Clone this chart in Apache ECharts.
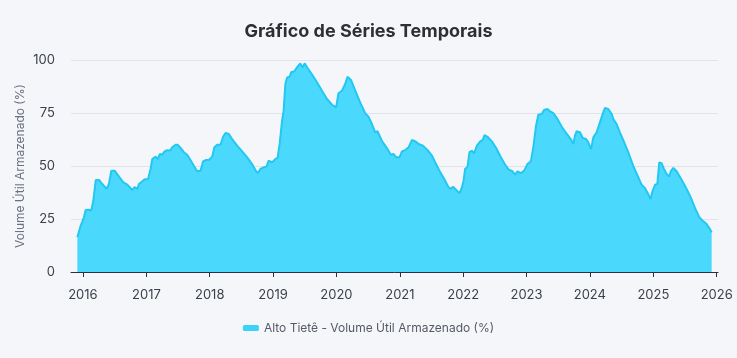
<!DOCTYPE html>
<html>
<head>
<meta charset="utf-8">
<script src="https://cdn.jsdelivr.net/npm/echarts@6/dist/echarts.min.js"></script>
<style>
html,body{margin:0;padding:0;background:#f5f6fa;}
#chart{width:737px;height:358px;}
</style>
</head>
<body>
<div id="chart"></div>
<script>
const titleText = "Gráfico de Séries Temporais";
const seriesName = "Alto Tietê - Volume Útil Armazenado (%)";
const yAxisName = "Volume Útil Armazenado (%)";

const dates = [
"2015-11-30","2015-12-19","2016-01-07","2016-01-17","2016-02-04","2016-02-18","2016-03-01","2016-03-15","2016-04-03","2016-04-22",
"2016-05-17","2016-05-30","2016-06-13","2016-07-02","2016-07-27","2016-08-21","2016-09-13","2016-10-12","2016-10-25","2016-11-10",
"2016-11-19","2016-12-09","2016-12-22","2017-01-10","2017-01-25","2017-02-04","2017-02-23","2017-03-08","2017-03-20","2017-04-02",
"2017-04-16","2017-05-01","2017-05-16","2017-05-30","2017-06-18","2017-07-01","2017-07-17","2017-08-05","2017-08-24","2017-09-12",
"2017-10-01","2017-10-21","2017-11-09","2017-11-24","2017-12-08","2017-12-27","2018-01-15","2018-01-28","2018-02-13","2018-03-04",
"2018-03-19","2018-04-02","2018-04-21","2018-05-10","2018-06-08","2018-07-07","2018-08-05","2018-09-02","2018-09-21","2018-10-05",
"2018-10-20","2018-11-08","2018-11-24","2018-12-07","2018-12-26","2019-01-14","2019-01-27","2019-02-08","2019-02-22","2019-03-03",
"2019-03-13","2019-03-23","2019-04-07","2019-04-15","2019-05-04","2019-05-19","2019-06-07","2019-06-20","2019-07-02","2019-07-19",
"2019-08-14","2019-09-11","2019-10-10","2019-11-08","2019-12-07","2019-12-31","2020-01-13","2020-02-02","2020-02-11","2020-02-21",
"2020-03-05","2020-03-25","2020-04-19","2020-05-17","2020-06-15","2020-07-04","2020-07-24","2020-08-12","2020-08-25","2020-09-19",
"2020-10-18","2020-11-10","2020-11-25","2020-12-11","2020-12-30","2021-01-13","2021-02-01","2021-02-20","2021-03-12","2021-03-31",
"2021-04-19","2021-05-14","2021-06-10","2021-07-05","2021-07-24","2021-08-22","2021-09-14","2021-10-08","2021-10-22","2021-11-03",
"2021-11-22","2021-12-11","2021-12-25","2022-01-03","2022-01-12","2022-01-26","2022-02-06","2022-02-20","2022-03-05","2022-03-21",
"2022-04-09","2022-04-24","2022-05-04","2022-05-21","2022-06-15","2022-07-10","2022-08-06","2022-08-31","2022-09-23","2022-10-08",
"2022-10-27","2022-11-10","2022-11-29","2022-12-18","2023-01-06","2023-01-26","2023-02-09","2023-02-25","2023-03-10","2023-03-30",
"2023-04-12","2023-05-01","2023-05-17","2023-06-05","2023-06-28","2023-07-23","2023-08-21","2023-09-13","2023-09-28","2023-10-07",
"2023-10-17","2023-11-05","2023-11-21","2023-12-10","2023-12-23","2024-01-08","2024-01-21","2024-02-09","2024-02-28","2024-03-18",
"2024-03-28","2024-04-16","2024-05-06","2024-05-15","2024-06-03","2024-06-22","2024-07-11","2024-08-09","2024-09-07","2024-10-06",
"2024-10-25","2024-11-13","2024-12-02","2024-12-16","2024-12-28","2025-01-11","2025-01-24","2025-02-04","2025-02-18","2025-03-03",
"2025-03-19","2025-04-03","2025-04-11","2025-04-26","2025-05-15","2025-06-07","2025-07-02","2025-07-31","2025-08-29","2025-09-23",
"2025-10-16","2025-11-04","2025-11-23","2025-12-03"
];

const volumes = [
16.4,21.8,25.8,29.2,29.4,28.9,33.6,43.4,43.4,41.5,
39.2,41.5,47.8,47.8,45.0,42.3,41.2,38.7,40.0,39.2,
41.5,42.8,43.7,43.7,48.6,53.3,54.4,53.3,55.7,55.3,
56.9,57.5,57.2,58.8,60.0,60.0,58.5,56.5,55.3,52.8,
50.1,47.5,47.8,52.2,52.8,52.8,54.4,58.8,60.0,60.0,
63.8,65.6,65.1,62.7,59.6,56.9,54.1,50.9,48.1,46.6,
48.6,49.4,49.7,52.5,51.7,53.2,53.8,60.4,71.4,76.1,
88.7,91.8,92.1,94.2,94.7,96.5,98.4,96.5,98.4,96.2,
93.1,89.5,85.5,81.6,78.9,77.7,84.3,85.5,86.3,88.7,
92.1,90.6,85.5,80.0,74.9,73.3,69.8,65.9,66.4,61.9,
58.5,55.3,55.7,54.1,54.1,56.9,57.5,58.8,62.3,61.6,
60.4,59.6,57.5,54.9,51.7,47.0,43.9,40.0,39.2,40.2,
38.7,37.1,40.0,43.1,48.6,49.7,56.5,57.2,56.0,59.6,
61.6,62.3,64.6,63.8,61.6,58.5,54.1,50.6,48.1,47.8,
45.9,47.5,46.6,47.8,50.9,52.2,58.8,69.0,74.2,74.5,
76.4,76.9,75.8,74.9,72.2,68.5,65.1,62.7,60.4,64.3,
66.4,65.9,63.2,62.7,61.2,58.0,63.5,65.9,70.6,75.3,
77.4,76.9,74.5,72.2,69.8,65.9,62.3,56.5,50.1,44.7,
41.2,39.6,36.8,34.4,38.3,41.2,41.5,51.7,51.3,48.6,
46.2,45.0,47.5,49.1,47.5,44.3,40.7,36.0,30.2,25.8,
23.9,22.6,20.3,18.7
];

const yTicks = [0, 25, 50, 75, 100];

const FONT = 'Inter, "Noto Sans", sans-serif';
const chart = echarts.init(document.getElementById('chart'), null, {renderer: 'canvas'});
const seriesData = dates.map((d, i) => [d, volumes[i]]);

chart.setOption({
  backgroundColor: '#f5f6fa',
  animation: false,
  textStyle: {fontFamily: FONT},
  title: {
    text: titleText,
    left: 'center',
    top: 18,
    textStyle: {fontFamily: FONT, fontSize: 18, fontWeight: 'bold', color: '#2e2e33'}
  },
  legend: {
    bottom: 19,
    left: 'center',
    icon: 'roundRect',
    itemWidth: 16,
    itemHeight: 6,
    itemGap: 10,
    textStyle: {fontFamily: FONT, fontSize: 12, color: '#555a66'},
    data: [seriesName]
  },
  grid: {left: 71, right: 19, top: 60, bottom: 86, containLabel: false},
  xAxis: {
    type: 'time',
    boundaryGap: ['1%', '1%'],
    splitNumber: 10,
    axisLine: {show: true, lineStyle: {color: '#2a3140', width: 1}},
    axisTick: {show: true, length: 5, lineStyle: {color: '#2a3140'}},
    splitLine: {show: false},
    axisLabel: {
      margin: 17,
      fontFamily: FONT,
      fontSize: 13,
      color: '#3a3f4a',
      formatter: function (v) {
        const d = new Date(v);
        return (d.getMonth() === 0 && d.getDate() === 1) ? String(d.getFullYear()) : '';
      }
    }
  },
  yAxis: {
    type: 'value',
    min: yTicks[0],
    max: yTicks[yTicks.length - 1],
    interval: 25,
    name: yAxisName,
    nameLocation: 'middle',
    nameGap: 45,
    nameMoveOverlap: false,
    nameTextStyle: {fontFamily: FONT, fontSize: 12, color: '#6b7080'},
    axisLine: {show: false},
    axisTick: {show: false},
    axisLabel: {margin: 16, fontFamily: FONT, fontSize: 13, color: '#3a3f4a'},
    splitLine: {show: true, lineStyle: {color: '#e2e3ea', width: 1}}
  },
  series: [{
    name: seriesName,
    type: 'line',
    data: seriesData,
    showSymbol: false,
    symbol: 'none',
    smooth: false,
    lineStyle: {color: '#22c8f1', width: 2},
    itemStyle: {color: '#3dd3f7'},
    areaStyle: {color: '#4ad9fd', opacity: 1}
  }]
});
</script>
</body>
</html>
